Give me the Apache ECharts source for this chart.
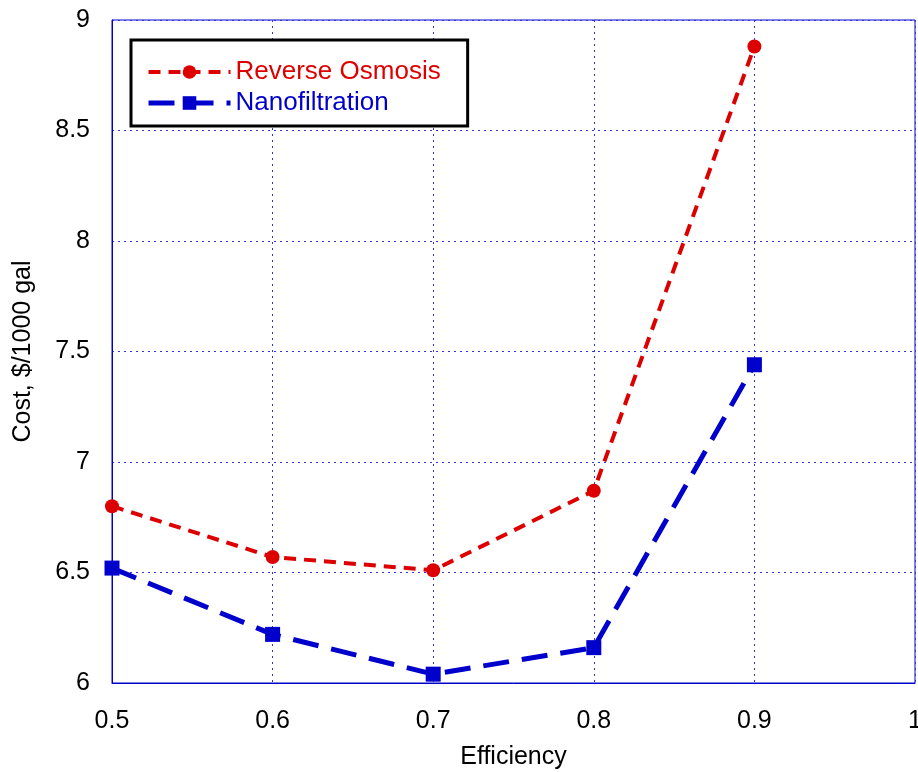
<!DOCTYPE html>
<html lang="en">
<head>
    <meta charset="UTF-8">
    <title>Cost vs Efficiency</title>
    <script src="https://cdn.jsdelivr.net/npm/echarts@6/dist/echarts.min.js"></script>
    <style>
        body { margin: 0; background: #fff; }
    </style>
</head>
<body>
<div id="main" style="width:918px;height:772px;"></div>
<script>
    // chart data
    var efficiency = [0.5, 0.6, 0.7, 0.8, 0.9];
    var reverseOsmosis = [6.80, 6.57, 6.51, 6.87, 8.88];
    var nanofiltration = [6.52, 6.22, 6.04, 6.16, 7.44];

    var red = '#dd0000';
    var blue = '#0000cc';
    var font = 'Liberation Sans, Arial, sans-serif';

    function pairs(xs, ys) {
        var out = [];
        for (var i = 0; i < xs.length; i++) {
            out.push([xs[i], ys[i]]);
        }
        return out;
    }

    var myChart = echarts.init(document.getElementById('main'));
    var option = {
        animation: false,
        grid: {
            left: 112, right: 3, top: 20, bottom: 89,
            outerBoundsMode: 'none',
            containLabel: false,
            show: true, borderColor: blue, borderWidth: 1
        },
        legend: {
            left: 131, top: 40,
            orient: 'vertical',
            backgroundColor: '#fff',
            borderColor: '#000',
            borderWidth: 3,
            padding: [19, 27, 10, 15],
            itemWidth: 82,
            itemHeight: 17,
            itemGap: 5,
            itemTextGap: 8,
            lineStyle: { width: 'inherit', type: 'inherit' },
            textStyle: { fontFamily: font, fontSize: 26 },
            data: [
                { name: 'Reverse Osmosis', textStyle: { color: red } },
                { name: 'Nanofiltration', textStyle: { color: blue } }
            ]
        },
        xAxis: {
            type: 'value',
            min: 0.5, max: 1, interval: 0.1,
            name: 'Efficiency',
            nameLocation: 'middle',
            nameGap: 62,
            nameTextStyle: { color: '#000', fontFamily: font, fontSize: 25 },
            axisLine: { lineStyle: { color: blue, width: 1 } },
            axisTick: { show: false },
            axisLabel: { color: '#000', fontFamily: font, fontSize: 25, margin: 26 },
            splitLine: { lineStyle: { color: '#3333dd', type: [2, 4], width: 1 } }
        },
        yAxis: {
            type: 'value',
            min: 6, max: 9, interval: 0.5,
            name: 'Cost, $/1000 gal',
            nameLocation: 'middle',
            nameGap: 76,
            nameTextStyle: { color: '#000', fontFamily: font, fontSize: 25 },
            axisLine: { show: true, lineStyle: { color: blue, width: 1 } },
            axisTick: { show: false },
            axisLabel: { color: '#000', fontFamily: font, fontSize: 25, margin: 22 },
            splitLine: { lineStyle: { color: '#3333dd', type: [2, 4], width: 1 } }
        },
        series: [
            {
                name: 'Reverse Osmosis',
                type: 'line',
                data: pairs(efficiency, reverseOsmosis),
                symbol: 'circle',
                symbolSize: 14,
                itemStyle: { color: red },
                lineStyle: { color: red, width: 4, type: [12, 8] },
                z: 3
            },
            {
                name: 'Nanofiltration',
                type: 'line',
                data: pairs(efficiency, nanofiltration),
                symbol: 'rect',
                symbolSize: 15,
                itemStyle: { color: blue },
                lineStyle: { color: blue, width: 5, type: [26, 13] },
                z: 2
            }
        ]
    };
    myChart.setOption(option);
</script>
</body>
</html>
